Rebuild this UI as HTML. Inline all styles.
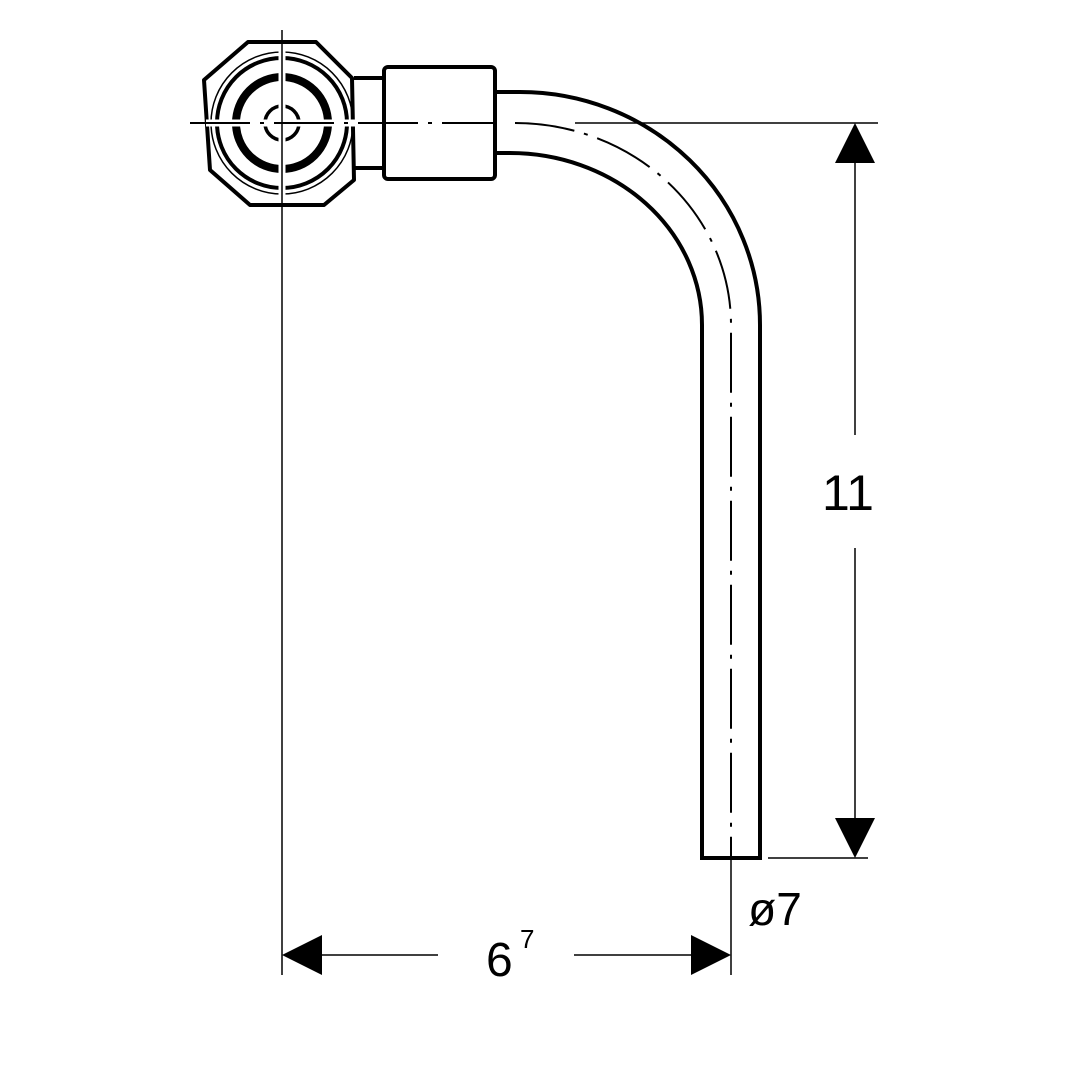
<!DOCTYPE html>
<html><head><style>body{margin:0;background:#fff}</style></head><body>
<svg width="1080" height="1080" viewBox="0 0 1080 1080" xmlns="http://www.w3.org/2000/svg" font-family="Liberation Sans, sans-serif">
<rect width="1080" height="1080" fill="#fff"/>
<g fill="none" stroke="#000" stroke-linejoin="round">
<path d="M248,42 L316,42 L352,78 L354,180 L324,205 L250,205 L210,170 L204,80 Z" stroke-width="4"/>
<circle cx="282" cy="123" r="71" stroke-width="1.5"/>
<circle cx="282" cy="123" r="65" stroke-width="4"/>
<circle cx="282" cy="123" r="46" stroke-width="8"/>
<circle cx="282" cy="123" r="17" stroke-width="3.5"/>
</g>
<g stroke="#fff" stroke-width="7">
<line x1="282" y1="45" x2="282" y2="203"/>
<line x1="206" y1="123" x2="358" y2="123"/>
</g>
<g fill="none" stroke="#000" stroke-linejoin="round">
<path d="M354,78 L384,78 M354,168 L384,168" stroke-width="4"/>
<rect x="384" y="67" width="111" height="112" rx="4" stroke-width="4"/>
<path d="M497,92 L520,92 A240,233 0 0 1 760,325 L760,858" stroke-width="4"/>
<path d="M497,153 L510,153 A192,172 0 0 1 702,325 L702,858" stroke-width="4"/>
<path d="M700,858 L762,858" stroke-width="4"/>
<path d="M190,123 L495,123 M515,123 A216,202 0 0 1 731,325 L731,858" stroke-width="2" stroke-dasharray="60,10,4,10"/>
<line x1="282" y1="30" x2="282" y2="975" stroke-width="1.5"/>
<line x1="575" y1="123" x2="878" y2="123" stroke-width="1.5"/>
<line x1="768" y1="858" x2="868" y2="858" stroke-width="1.5"/>
<line x1="855" y1="150" x2="855" y2="435" stroke-width="1.5"/>
<line x1="855" y1="548" x2="855" y2="830" stroke-width="1.5"/>
<line x1="731" y1="840" x2="731" y2="975" stroke-width="1.5"/>
<line x1="300" y1="955" x2="438" y2="955" stroke-width="1.5"/>
<line x1="574" y1="955" x2="712" y2="955" stroke-width="1.5"/>
</g>
<g fill="#000">
<polygon points="855,123 835,163 875,163"/>
<polygon points="855,858 835,818 875,818"/>
<polygon points="282,955 322,935 322,975"/>
<polygon points="731,955 691,935 691,975"/>
</g>
<text x="848" y="510" font-size="50" text-anchor="middle">11</text>
<text x="775" y="925" font-size="46" text-anchor="middle">ø7</text>
<text x="486" y="976" font-size="48">6</text>
<text x="520" y="948" font-size="26">7</text>
</svg>
</body></html>
